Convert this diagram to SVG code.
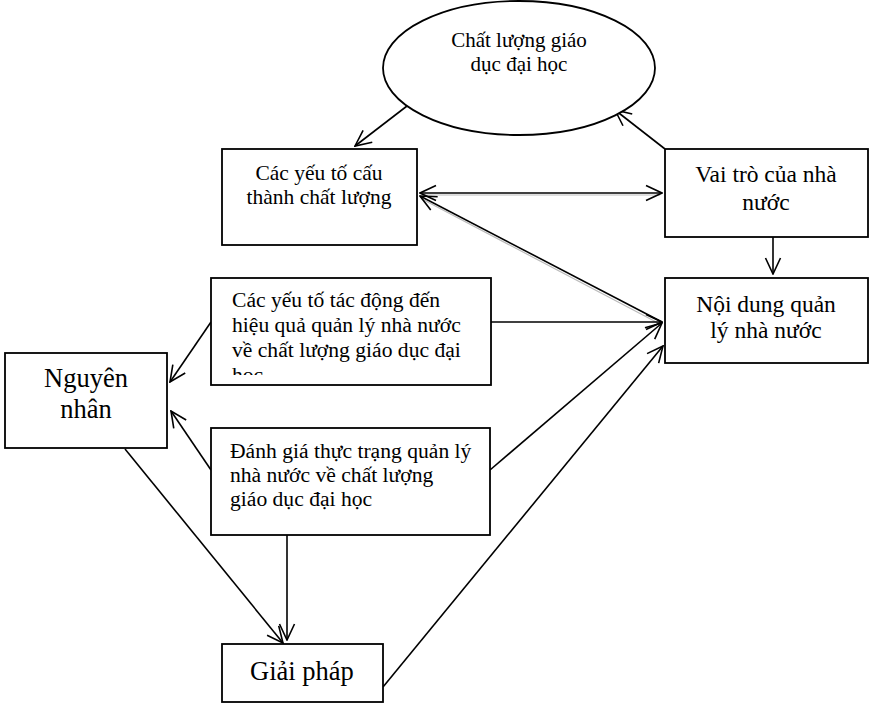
<svg xmlns="http://www.w3.org/2000/svg" width="872" height="707" viewBox="0 0 872 707">
<style>
.box{fill:#fff;stroke:#000;stroke-width:1.8}
.t{font-family:"Liberation Serif","Times New Roman",serif;fill:#000}
.c{text-anchor:middle}
.ln{fill:none;stroke:#000;stroke-width:1.6}
.sh{fill:none;stroke:#bbb;stroke-width:1.2}
</style>
<defs>
<marker id="ah" viewBox="0 0 18 18" refX="17" refY="9" markerWidth="18" markerHeight="18" markerUnits="userSpaceOnUse" orient="auto-start-reverse">
<path d="M1,1.5 L17,9 L1,16.5" fill="none" stroke="#000" stroke-width="1.6"/>
</marker>
<clipPath id="clipTD"><rect x="211" y="278" width="280" height="97"/></clipPath>
</defs>
<rect width="872" height="707" fill="#fff"/>

<g id="connectors">
<line class="ln" x1="407" y1="106" x2="355" y2="146" marker-end="url(#ah)"/>
<line class="ln" x1="665" y1="149" x2="615" y2="110" marker-end="url(#ah)"/>
<line class="sh" x1="422" y1="195" x2="660" y2="195"/>
<line class="ln" x1="420" y1="193" x2="662" y2="193" marker-start="url(#ah)" marker-end="url(#ah)"/>
<line class="sh" x1="422" y1="199" x2="660" y2="324"/>
<line class="ln" x1="420" y1="196" x2="662" y2="322" marker-start="url(#ah)"/>
<line class="ln" x1="773" y1="237" x2="773" y2="274" marker-end="url(#ah)"/>
<line class="ln" x1="491" y1="322" x2="662" y2="322" marker-end="url(#ah)"/>
<line class="ln" x1="490" y1="470" x2="662" y2="323" marker-end="url(#ah)"/>
<line class="ln" x1="383" y1="687" x2="663" y2="346" marker-end="url(#ah)"/>
<line class="ln" x1="211" y1="322" x2="170" y2="382" marker-end="url(#ah)"/>
<line class="ln" x1="211" y1="470" x2="171" y2="411" marker-end="url(#ah)"/>
<line class="ln" x1="125" y1="449" x2="283" y2="643" marker-end="url(#ah)"/>
<line class="ln" x1="287" y1="535" x2="287" y2="640" marker-end="url(#ah)"/>
</g>

<g id="n-chatluong">
<ellipse class="box" cx="519" cy="68" rx="136" ry="67"/>
<text class="t c" x="519" y="47" font-size="21">Chất lượng giáo</text>
<text class="t c" x="519" y="71" font-size="21">dục đại học</text>
</g>

<g id="n-cauthanh">
<rect class="box" x="222" y="149" width="195" height="96"/>
<text class="t c" x="319" y="180" font-size="21.5">Các yếu tố cấu</text>
<text class="t c" x="319" y="204" font-size="21.5">thành chất lượng</text>
</g>

<g id="n-vaitro">
<rect class="box" x="665" y="149" width="203" height="88"/>
<text class="t c" x="766" y="182" font-size="23.5">Vai trò của nhà</text>
<text class="t c" x="766" y="210" font-size="23.5">nước</text>
</g>

<g id="n-noidung">
<rect class="box" x="665" y="278" width="203" height="85"/>
<text class="t c" x="766" y="312" font-size="23.5">Nội dung quản</text>
<text class="t c" x="766" y="338" font-size="23.5">lý nhà nước</text>
</g>

<g id="n-tacdong">
<rect class="box" x="211" y="278" width="280" height="107"/>
<g clip-path="url(#clipTD)">
<text class="t" x="232" y="307" font-size="21.6">Các yếu tố tác động đến</text>
<text class="t" x="232" y="332" font-size="21.6">hiệu quả quản lý nhà nước</text>
<text class="t" x="232" y="357" font-size="21.6">về chất lượng giáo dục đại</text>
<text class="t" x="232" y="382" font-size="21.6">học</text>
</g>
</g>

<g id="n-nguyennhan">
<rect class="box" x="5" y="353" width="162" height="95"/>
<text class="t c" x="86" y="387" font-size="26.5">Nguyên</text>
<text class="t c" x="86" y="418" font-size="26.5">nhân</text>
</g>

<g id="n-danhgia">
<rect class="box" x="211" y="428" width="279" height="107"/>
<text class="t" x="230" y="458" font-size="21.6">Đánh giá thực trạng quản lý</text>
<text class="t" x="230" y="482" font-size="21.6">nhà nước về chất lượng</text>
<text class="t" x="230" y="506" font-size="21.6">giáo dục đại học</text>
</g>

<g id="n-giaiphap">
<rect class="box" x="222" y="644" width="161" height="58"/>
<text class="t c" x="302" y="680" font-size="26.5">Giải pháp</text>
</g>
</svg>
